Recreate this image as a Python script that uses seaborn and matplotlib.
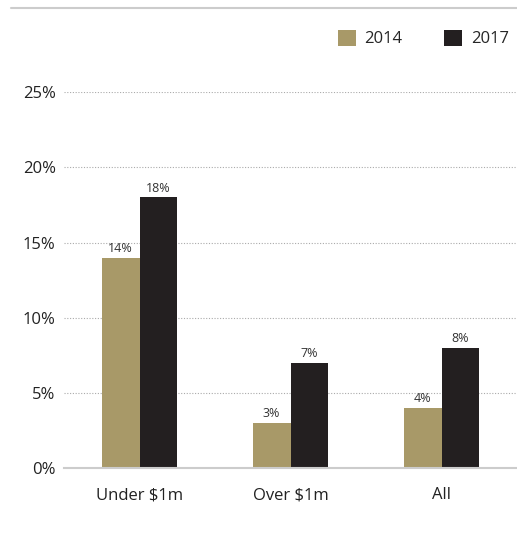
import matplotlib.pyplot as plt
import pandas as pd
import seaborn as sns

categories = ["Under $1m", "Over $1m", "All"]
years = ["2014", "2017"]
values_2014 = [14, 3, 4]
values_2017 = [18, 7, 8]
y_ticks = [0, 5, 10, 15, 20, 25]
colors = {"2014": "#A89968", "2017": "#231F20"}

df = pd.DataFrame({
    "category": categories * 2,
    "year": ["2014"] * 3 + ["2017"] * 3,
    "value": values_2014 + values_2017,
})

sns.set_style("white")
plt.rcParams["font.family"] = ["Open Sans", "DejaVu Sans"]

fig = plt.figure(figsize=(5.17, 5.33), dpi=100)
ax = fig.add_axes([0.124, 0.122, 0.876, 0.705])

sns.barplot(data=df, x="category", y="value", hue="year", palette=colors,
            width=0.5, saturation=1, linewidth=0, ax=ax, legend=True)

for container in ax.containers:
    ax.bar_label(container, labels=[f"{v:.0f}%" for v in container.datavalues],
                 fontsize=9, color="#333333", padding=2)

ax.set_ylim(0, 25)
ax.set_xlim(-0.5, 2.5)
ax.set_yticks(y_ticks)
ax.set_yticklabels([f"{t}%" for t in y_ticks])
ax.yaxis.grid(True, linestyle=(0, (1, 1.5)), color="#aaaaaa", linewidth=0.8)
ax.set_axisbelow(True)
ax.tick_params(axis="both", length=0, labelsize=12, colors="#222222", pad=6)
ax.tick_params(axis="x", pad=14)
ax.set_xlabel("")
ax.set_ylabel("")
for side in ["top", "right", "left"]:
    ax.spines[side].set_visible(False)
ax.spines["bottom"].set_color("#cccccc")
ax.spines["bottom"].set_linewidth(1.5)

sns.move_legend(ax, "center right", bbox_to_anchor=(1.0, 0.928),
                bbox_transform=fig.transFigure, ncol=2, frameon=False,
                title=None, fontsize=12, handlelength=1.1, handleheight=1.1,
                columnspacing=2.5, handletextpad=0.5, borderaxespad=0.1)

fig.add_artist(plt.Line2D([0.021, 1.0], [0.985, 0.985], color="#cccccc",
                          linewidth=1.5, transform=fig.transFigure))

fig.savefig("out.png", dpi=100)
